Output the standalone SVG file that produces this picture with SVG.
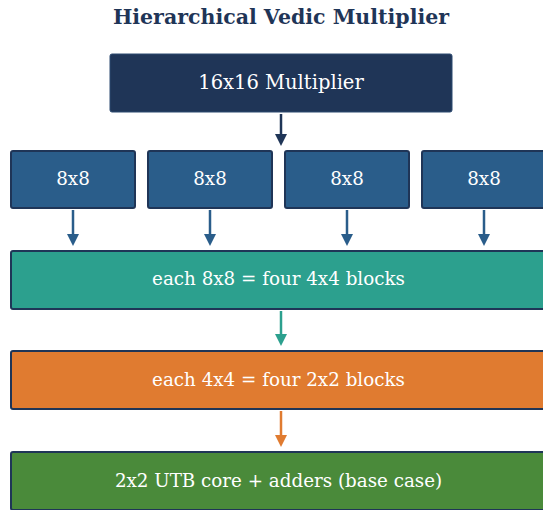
<svg xmlns="http://www.w3.org/2000/svg" width="543" height="510" viewBox="0 0 543 510">
<style>
.t{font-family:"DejaVu Serif",serif;fill:#ffffff;text-anchor:middle}
.box{stroke:#1f3557;stroke-width:2}
.c{stroke-width:2.5;fill:none}
</style>
<defs>
<marker id="hNavy" markerUnits="userSpaceOnUse" markerWidth="12" markerHeight="12" refX="1" refY="6" orient="auto" viewBox="0 0 12 12"><path d="M0,0 L12,6 L0,12 z" fill="#1f3557"/></marker>
<marker id="hBlue" markerUnits="userSpaceOnUse" markerWidth="12" markerHeight="12" refX="1" refY="6" orient="auto" viewBox="0 0 12 12"><path d="M0,0 L12,6 L0,12 z" fill="#2a5d8a"/></marker>
<marker id="hTeal" markerUnits="userSpaceOnUse" markerWidth="12" markerHeight="12" refX="1" refY="6" orient="auto" viewBox="0 0 12 12"><path d="M0,0 L12,6 L0,12 z" fill="#2ca08e"/></marker>
<marker id="hOrange" markerUnits="userSpaceOnUse" markerWidth="12" markerHeight="12" refX="1" refY="6" orient="auto" viewBox="0 0 12 12"><path d="M0,0 L12,6 L0,12 z" fill="#e07b30"/></marker>
</defs>
<rect width="543" height="510" fill="#ffffff"/>
<text x="281" y="24" font-family="DejaVu Serif,serif" font-weight="bold" font-size="20.5" fill="#1f3557" text-anchor="middle">Hierarchical Vedic Multiplier</text>
<g id="connectors">
<line class="c" x1="281" y1="114" x2="281" y2="135" stroke="#1f3557" marker-end="url(#hNavy)"/>
<line class="c" x1="73" y1="210" x2="73" y2="235" stroke="#2a5d8a" marker-end="url(#hBlue)"/>
<line class="c" x1="210" y1="210" x2="210" y2="235" stroke="#2a5d8a" marker-end="url(#hBlue)"/>
<line class="c" x1="347" y1="210" x2="347" y2="235" stroke="#2a5d8a" marker-end="url(#hBlue)"/>
<line class="c" x1="484" y1="210" x2="484" y2="235" stroke="#2a5d8a" marker-end="url(#hBlue)"/>
<line class="c" x1="281" y1="311" x2="281" y2="335" stroke="#2ca08e" marker-end="url(#hTeal)"/>
<line class="c" x1="281" y1="411" x2="281" y2="436" stroke="#e07b30" marker-end="url(#hOrange)"/>
</g>
<g id="top"><rect x="110" y="54" width="342" height="58" rx="2" fill="#1f3557" stroke="#2c4a70" stroke-width="1"/><text class="t" x="281" y="89" font-size="19.5">16x16 Multiplier</text></g>
<g id="b1"><rect class="box" x="11" y="151" width="124" height="57" rx="2" fill="#2a5d8a"/><text class="t" x="73" y="185" font-size="18.3">8x8</text></g>
<g id="b2"><rect class="box" x="148" y="151" width="124" height="57" rx="2" fill="#2a5d8a"/><text class="t" x="210" y="185" font-size="18.3">8x8</text></g>
<g id="b3"><rect class="box" x="285" y="151" width="124" height="57" rx="2" fill="#2a5d8a"/><text class="t" x="347" y="185" font-size="18.3">8x8</text></g>
<g id="b4"><rect class="box" x="422" y="151" width="124" height="57" rx="2" fill="#2a5d8a"/><text class="t" x="484" y="185" font-size="18.3">8x8</text></g>
<g id="l8"><rect class="box" x="11" y="251" width="535" height="58" rx="2" fill="#2ca08e"/><text class="t" x="278.5" y="285" font-size="18.3">each 8x8 = four 4x4 blocks</text></g>
<g id="l4"><rect class="box" x="11" y="351" width="535" height="58" rx="2" fill="#e07b30"/><text class="t" x="278.5" y="386" font-size="18.3">each 4x4 = four 2x2 blocks</text></g>
<g id="l2"><rect class="box" x="11" y="452" width="535" height="58" rx="2" fill="#4a8a3a"/><text class="t" x="278.5" y="487" font-size="18.3">2x2 UTB core + adders (base case)</text></g>
</svg>
